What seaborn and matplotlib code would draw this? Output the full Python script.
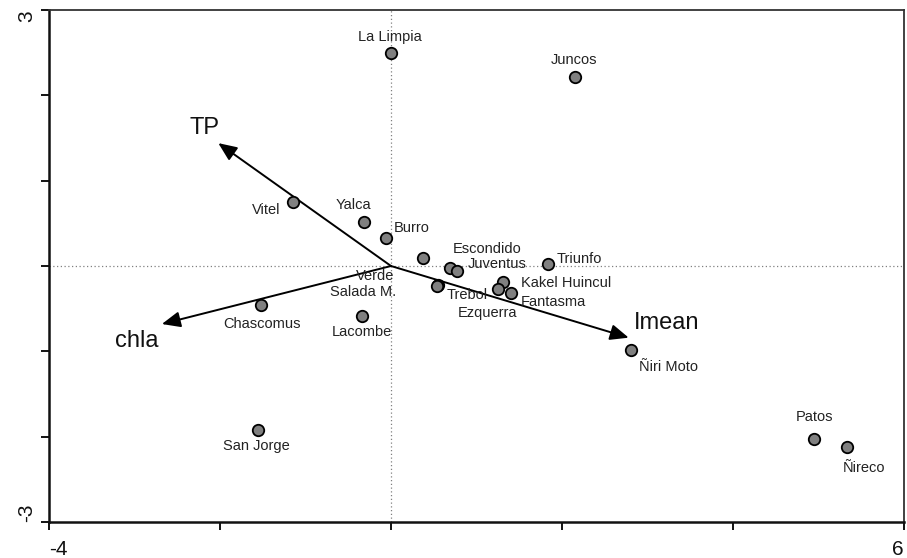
import matplotlib
matplotlib.use("Agg")
import matplotlib.pyplot as plt
import matplotlib.transforms as mtransforms
import seaborn as sns
import pandas as pd

# Site scores on the first two ordination axes
sites = ["La Limpia", "Juncos", "Vitel", "Yalca", "Burro", "Verde", "Escondido",
         "Juventus", "Triunfo", "Salada M.", "Trebol", "Kakel Huincul", "Fantasma",
         "Ezquerra", "Chascomus", "Lacombe", "San Jorge", "Ñiri Moto", "Patos", "Ñireco"]
axis1 = [0.00, 2.15, -1.15, -0.32, -0.06, 0.37, 0.69,
         0.77, 1.84, 0.55, 0.54, 1.31, 1.40,
         1.25, -1.52, -0.34, -1.56, 2.81, 4.95, 5.33]
axis2 = [2.50, 2.22, 0.75, 0.52, 0.33, 0.09, -0.02,
         -0.06, 0.02, -0.22, -0.23, -0.19, -0.32,
         -0.27, -0.46, -0.59, -1.92, -0.98, -2.03, -2.12]

# Environmental variable vectors
variables = ["TP", "chla", "Imean"]
var_axis1 = [-2.02, -2.68, 2.78]
var_axis2 = [1.44, -0.68, -0.84]

# Axis ticks
x_ticks = [-4, -2, 0, 2, 4, 6]
x_tick_labels = ["-4", "", "", "", "", "6"]
y_ticks = [-3, -2, -1, 0, 1, 2, 3]
y_tick_labels = ["-3", "", "", "", "", "", "3"]

# Label placement (pixel offsets from each mark)
site_label_offsets = {
    "La Limpia": (-1, 16), "Juncos": (-1, 17), "Vitel": (-26, -8),
    "Yalca": (-10, 17), "Burro": (26, 10), "Verde": (-48, -18),
    "Escondido": (37, 19), "Juventus": (40, 7), "Triunfo": (31, 5),
    "Salada M.": (-75, -7), "Trebol": (30, -9), "Kakel Huincul": (63, -1),
    "Fantasma": (43, -9), "Ezquerra": (-10, -24), "Chascomus": (1, -19),
    "Lacombe": (0, -16), "San Jorge": (-1, -16), "Ñiri Moto": (37, -17),
    "Patos": (0, 22), "Ñireco": (17, -21),
}
var_label_offsets = {"TP": (-14, 15), "chla": (-25, -17), "Imean": (38, 15)}

sns.set_style("white")
plt.rcParams["font.family"] = ["Liberation Sans", "DejaVu Sans"]

df = pd.DataFrame({"site": sites, "ax1": axis1, "ax2": axis2})

fig = plt.figure(figsize=(9.07, 5.58), dpi=100)
ax = fig.add_axes([49 / 907, 36 / 558, 855 / 907, 512 / 558])

ax.axhline(0, color="#808080", lw=0.9, ls=(0, (1, 2)), zorder=1)
ax.axvline(0, color="#808080", lw=0.9, ls=(0, (1, 2)), zorder=1)

for name, vx, vy in zip(variables, var_axis1, var_axis2):
    ax.annotate("", xy=(vx, vy), xytext=(0, 0),
                arrowprops=dict(arrowstyle="-|>,head_length=0.7,head_width=0.3",
                                mutation_scale=16, lw=1.4, color="black",
                                shrinkA=0, shrinkB=0), zorder=2)
    dx, dy = var_label_offsets[name]
    ax.annotate(name, xy=(vx, vy), xytext=(dx, dy), textcoords="offset pixels",
                ha="center", va="center", fontsize=17, color="#111111", zorder=4)

sns.scatterplot(data=df, x="ax1", y="ax2", ax=ax, s=68, color="#808080",
                edgecolor="black", linewidth=1.3, zorder=3, legend=False)

for name, x, y in zip(sites, axis1, axis2):
    dx, dy = site_label_offsets[name]
    ax.annotate(name, xy=(x, y), xytext=(dx, dy), textcoords="offset pixels",
                ha="center", va="center", fontsize=10.5, color="#222222", zorder=4)

ax.set_xlim(-4, 6)
ax.set_ylim(-3, 3)
ax.set_xticks(x_ticks)
ax.set_xticklabels(x_tick_labels)
ax.set_yticks(y_ticks)
ax.set_yticklabels(y_tick_labels, rotation=90, va="center")
ax.set_xlabel("")
ax.set_ylabel("")

xl = ax.get_xticklabels()
xl[0].set_ha("left")
xl[-1].set_ha("right")
yl = ax.get_yticklabels()
yl[0].set_va("bottom")
yl[-1].set_va("top")
# nudge the end labels of the vertical axis slightly inward
yl[0].set_transform(yl[0].get_transform()
                    + mtransforms.ScaledTranslation(0, 6 / 100, fig.dpi_scale_trans))
yl[-1].set_transform(yl[-1].get_transform()
                     + mtransforms.ScaledTranslation(0, -5 / 100, fig.dpi_scale_trans))

ax.tick_params(axis="both", direction="out", length=6, width=1.3,
               color="black", labelsize=15, labelcolor="#111111")
ax.tick_params(axis="x", pad=7)
ax.tick_params(axis="y", pad=3)
ax.tick_params(bottom=True, left=True)

for side in ["left", "bottom"]:
    ax.spines[side].set_linewidth(1.8)
    ax.spines[side].set_color("#111111")
for side in ["top", "right"]:
    ax.spines[side].set_linewidth(1.3)
    ax.spines[side].set_color("#333333")

fig.savefig("out.png", dpi=100)
